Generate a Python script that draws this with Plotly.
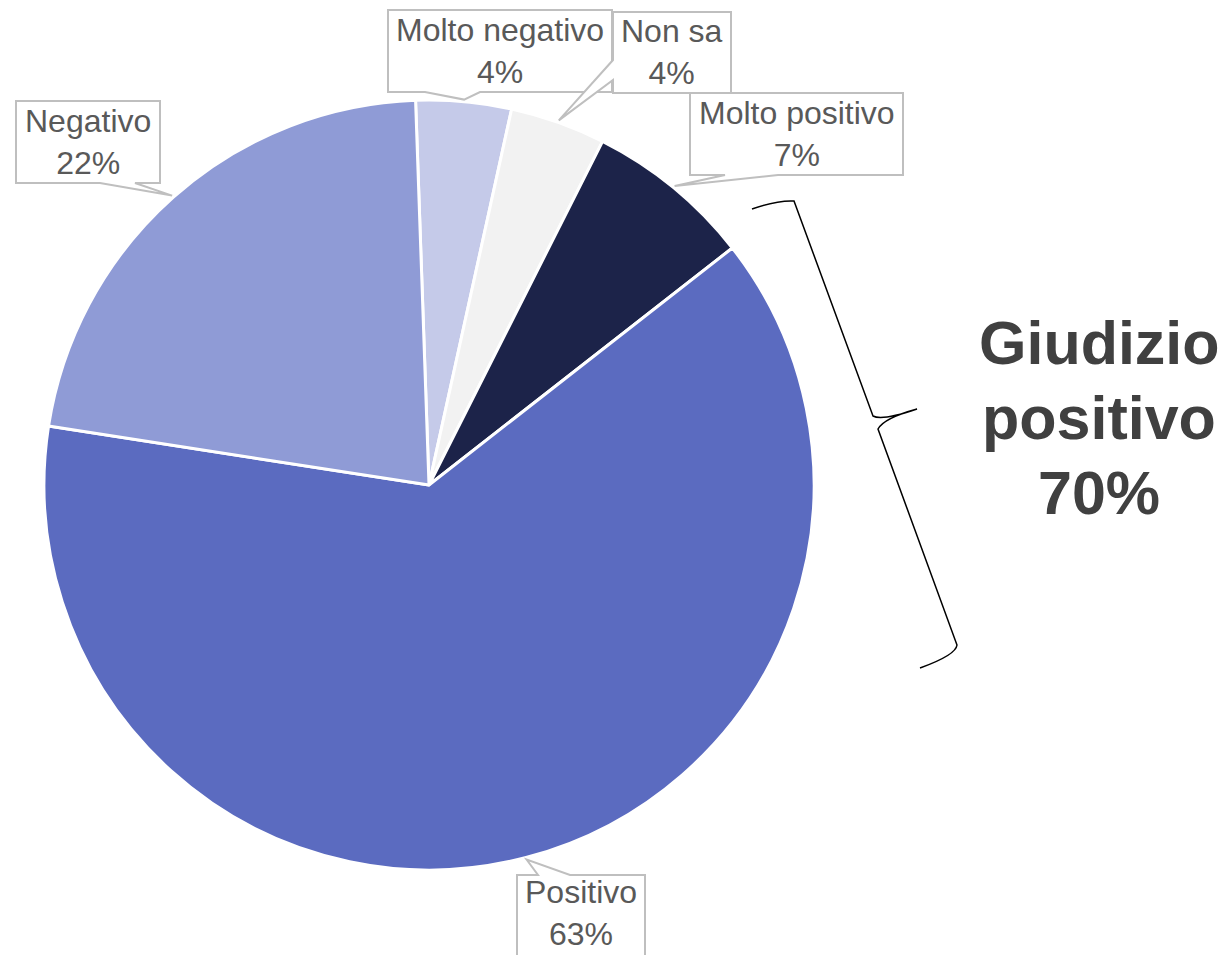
import math
import plotly.graph_objects as go

# Survey answers, clockwise from the top of the pie
labels = ["Molto negativo", "Non sa", "Molto positivo", "Positivo", "Negativo"]
values = [4, 4, 7, 63, 22]
colors = ["#C5CAE9", "#F2F2F2", "#1C2349", "#5B6BC0", "#8F9BD6"]
summary_lines = ["Giudizio", "positivo", "70%"]

W, H = 1232, 955
CX, CY, R = 429, 485, 385          # pie centre and radius in pixels
ROTATION = -2                      # first slice starts slightly left of 12 o'clock

# Callout boxes (pixels): box corners, side carrying the pointer, pointer base,
# and the vertical centre of the two text lines
callouts = {
    "Negativo":       dict(box=(16, 101, 160, 183), side="bottom", base=(100, 135), ty=142),
    "Molto negativo": dict(box=(388, 10, 612, 92), side="bottom", base=(425, 480), ty=51),
    "Non sa":         dict(box=(613, 12, 731, 93), side="left", base=(60, 80), ty=52),
    "Molto positivo": dict(box=(690, 93, 903, 175), side="bottom", base=(725, 778), ty=134),
    "Positivo":       dict(box=(517, 875, 645, 965), side="top", base=(538, 570), ty=913),
}

fig = go.Figure()

fig.add_trace(go.Pie(
    labels=labels,
    values=values,
    sort=False,
    direction="clockwise",
    rotation=ROTATION,
    marker=dict(colors=colors, line=dict(color="white", width=3)),
    textinfo="none",
    hoverinfo="label+percent",
    showlegend=False,
    domain=dict(x=[(CX - R) / W, (CX + R) / W],
                y=[(H - CY - R) / H, (H - CY + R) / H]),
))

# Invisible pixel axes so shapes and labels can be placed in screen units
fig.add_trace(go.Scatter(x=[0, W], y=[0, H], mode="markers",
                         marker=dict(opacity=0), hoverinfo="skip", showlegend=False))

total = sum(values)
shapes = []
annotations = []
cum = 0.0
for lab, val in zip(labels, values):
    mid = math.radians(ROTATION + 360.0 * (cum + val / 2) / total)
    cum += val
    tx = CX + (R + 2) * math.sin(mid)
    ty = CY - (R + 2) * math.cos(mid)

    c = callouts[lab]
    x0, y0, x1, y1 = c["box"]
    a, b = c["base"]
    if c["side"] == "bottom":
        pts = [(x0, y0), (x1, y0), (x1, y1), (b, y1), (tx, ty), (a, y1), (x0, y1)]
    elif c["side"] == "top":
        pts = [(x0, y0), (a, y0), (tx, ty), (b, y0), (x1, y0), (x1, y1), (x0, y1)]
    else:  # left
        pts = [(x0, y0), (x1, y0), (x1, y1), (x0, y1), (x0, b), (tx, ty), (x0, a)]
    path = "M " + " L ".join(f"{px:.1f},{py:.1f}" for px, py in pts) + " Z"
    shapes.append(dict(type="path", path=path, xref="x", yref="y",
                       line=dict(color="#BFBFBF", width=2), fillcolor="white"))

    pct = round(100 * val / total)
    annotations.append(dict(
        x=(x0 + x1) / 2, y=c["ty"],
        xref="x", yref="y", showarrow=False,
        text=f"{lab}<br>{pct}%",
        font=dict(family="Liberation Sans, Arial", size=32, color="#595959"),
        xanchor="center", yanchor="middle", align="center",
    ))

# Curly brace grouping the positive answers
brace = ("M 752,209 Q 778,200 794,201 L 873,416 Q 882,421 917,409 "
         "Q 884,418 878,429 L 957,645 Q 956,655 920,668")
shapes.append(dict(type="path", path=brace, xref="x", yref="y",
                   line=dict(color="black", width=1.5)))

# Summary of the positive answers, one line per annotation
for i, line in enumerate(summary_lines):
    annotations.append(dict(
        x=1099, y=343 + 75 * i, xref="x", yref="y", showarrow=False,
        text=f"<b>{line}</b>",
        font=dict(family="Liberation Sans, Arial", size=61, color="#404040"),
        xanchor="center", yanchor="middle", align="center",
    ))

fig.update_layout(
    width=W, height=H,
    margin=dict(l=0, r=0, t=0, b=0),
    paper_bgcolor="white", plot_bgcolor="rgba(0,0,0,0)",
    xaxis=dict(range=[0, W], visible=False, fixedrange=True, domain=[0, 1]),
    yaxis=dict(range=[H, 0], visible=False, fixedrange=True, domain=[0, 1]),
    shapes=shapes,
    annotations=annotations,
)

fig.write_html("out.html", config={"displayModeBar": False})
